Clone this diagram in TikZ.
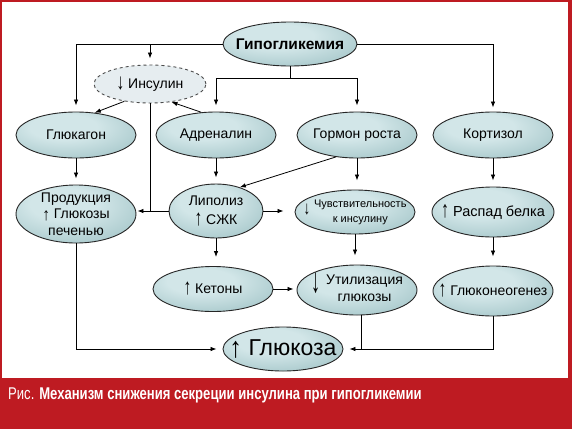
\documentclass[tikz,border=0pt]{standalone}
\usepackage{fontspec}
\usepackage{graphicx}
\setmainfont{Liberation Sans}
\newfontfamily\capfont[FakeStretch=0.77]{Liberation Sans}
\usetikzlibrary{shapes.geometric,arrows.meta,calc}
\definecolor{frame}{HTML}{BE1B22}
\definecolor{shA}{HTML}{D2E6E8}
\definecolor{shB}{HTML}{A3C5C8}
\definecolor{shC}{HTML}{6C969A}
\definecolor{insfill}{HTML}{E6EDF0}
\pgfdeclareradialshading{ellshade}{\pgfpoint{-6bp}{10bp}}{color(0bp)=(shA); color(14bp)=(shA); color(38bp)=(shB); color(58bp)=(shC); color(100bp)=(shC)}
\newcommand\uarr[1][1.6]{\raisebox{-1.5pt}{\scalebox{1.1}[#1]{↑}}}
\newcommand\darr[1][1.6]{\raisebox{-1.5pt}{\scalebox{1.1}[#1]{↓}}}
\begin{document}
\begin{tikzpicture}[x=1pt,y=-1pt,
  ell/.style={ellipse, draw=black!85, line width=0.9pt, shading=ellshade, inner sep=0pt, minimum width=120, minimum height=46},
  lbl/.style={font=\fontsize{14}{17}\selectfont, align=center, inner sep=0pt},
  arr/.style={-{Latex[length=6pt,width=4.5pt]}, line width=0.8pt, shorten >=6pt},
  ln/.style={line width=0.8pt}]
\fill[frame] (0,0) rectangle (572,429);
\fill[white] (2,2) rectangle (568,378);
\useasboundingbox (0,0) rectangle (572,429);

% nodes
\node[ell, minimum width=134, minimum height=44,
  label={[lbl,font=\fontsize{15.5}{16}\selectfont\bfseries]center:Гипогликемия}] (hypo) at (290,44) {};
\node[ellipse, draw=black!70, dashed, line width=0.9pt, fill=insfill, inner sep=0pt,
  minimum width=112, minimum height=38,
  label={[lbl]center:\darr\ Инсулин}] (ins) at (150,84) {};
\node[ell, label={[lbl]center:Глюкагон}] (glucagon) at (76,135) {};
\node[ell, label={[lbl]center:Адреналин}] (adr) at (216,135) {};
\node[ell, label={[lbl]center:Гормон роста}] (gh) at (357,135) {};
\node[ell, label={[lbl]center:Кортизол}] (cort) at (493,135) {};

\node[ell, minimum height=58,
  label={[lbl,font=\fontsize{14}{16.5}\selectfont]center:Продукция\\\uarr[1.25]\ Глюкозы\\печенью}] (prod) at (76,214) {};
\node[ell, minimum width=94, minimum height=54,
  label={[lbl]center:Липолиз\\[2pt]\uarr\ СЖК}] (lip) at (216,211) {};
\node[ell, minimum height=44,
  label={[lbl,font=\fontsize{11}{15}\selectfont]center:\raisebox{0pt}{\scalebox{1.2}[1.7]{↓}}\hspace{4pt}\begin{tabular}{@{}c@{}}Чувствительность\\к инсулину\end{tabular}}] (sens) at (355,212) {};
\node[ell, minimum width=122, minimum height=50,
  label={[lbl,font=\fontsize{14.5}{16}\selectfont]center:\uarr\ Распад белка}] (prot) at (493,212) {};

\node[ell, minimum height=45, label={[lbl]center:\uarr\ Кетоны}] (ket) at (213,289) {};
\node[ell, minimum height=50,
  label={[lbl]center:\raisebox{-8pt}{\scalebox{1.3}[2.5]{↓}}\hspace{6pt}\begin{tabular}[t]{@{}c@{}}Утилизация\\глюкозы\end{tabular}}] (util) at (357,290) {};
\node[ell, minimum height=50, label={[lbl]center:\uarr\ Глюконеогенез}] (gng) at (493,291) {};
\node[ell, minimum height=44,
  label={[lbl,font=\fontsize{23}{23}\selectfont]center:\uarr[1.25] Глюкоза}] (glu) at (283,349) {};

% connectors
\draw[arr] (hypo.west) -| (glucagon.north);
\coordinate (jins) at (ins.north |- hypo.west);
\draw[arr] (jins) -- (ins.north);
\draw[arr, shorten >=4pt] (hypo.east) -| (cort.north);
\coordinate (bar) at ($(hypo.south)+(0,12)$);
\draw[ln] (hypo.south) -- (bar);
\draw[arr] (bar) -| (adr.north);
\draw[arr] (bar) -| (gh.north);
\draw[arr, shorten >=0pt] (ins.-146) -- (glucagon.50);
\draw[arr, shorten >=0pt] (adr.123) -- (ins.-40);
\draw[ln] (ins.south) -- (ins.south |- lip.west);
\draw[arr, shorten >=1pt] (lip.west) -- (lip.west -| prod.east);
\draw[arr, shorten >=0pt] (gh.-134) -- (lip.45);
\draw[arr, shorten >=11pt] (lip.east) -- (lip.east -| sens.west);

\draw[arr] (glucagon.south) -- (prod.north);
\draw[arr] (adr.south) -- (lip.north);
\draw[arr, shorten >=9pt] (gh.south) -- (gh.south |- sens.north);
\draw[arr] (cort.south) -- (prot.north);

\draw[arr, shorten >=9pt] (lip.south) -- (lip.south |- ket.north);
\draw[arr, shorten >=9pt] (sens.south) -- (sens.south |- util.north);
\draw[arr, shorten >=9pt] (prot.south) -- (gng.north);
\draw[arr, shorten >=3pt] (ket.east) -- (ket.east -| util.west);

\draw[arr] (prod.south) |- (glu.west);
\draw[arr] (util.-80) |- (glu.east);
\draw[ln] (gng.south) |- (util.-80 |- glu.east);

% caption
\node[anchor=west, text=white, inner sep=0pt, font=\capfont\fontsize{17}{17}\selectfont] (cap) at (8,395)
  {Рис. \textbf{Механизм снижения секреции инсулина при гипогликемии}};
\end{tikzpicture}
\end{document}
